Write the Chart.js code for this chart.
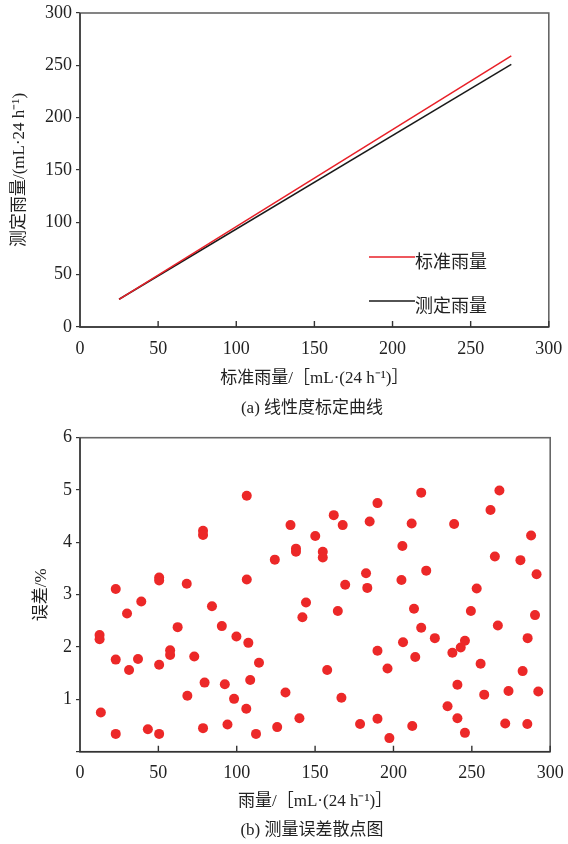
<!DOCTYPE html>
<html>
<head>
<meta charset="utf-8">
<script src="https://cdn.jsdelivr.net/npm/chart.js@4.4.1/dist/chart.umd.min.js"></script>
<style>
  body { margin: 0; background: #fff; width: 568px; height: 844px; overflow: hidden; position: relative;
         font-family: 'Liberation Serif', 'Noto Sans CJK SC', serif; color: #222; }
  canvas { position: absolute; left: 0; }
  #lineChart { top: 0; }
  #errChart { top: 420px; }
  .cap { position: absolute; left: 312px; transform: translateX(-50%); white-space: nowrap;
         font-size: 17px; line-height: 20px; }
</style>
</head>
<body>
<canvas id="lineChart" width="568" height="400"></canvas>
<div class="cap" style="top:398px">(a) 线性度标定曲线</div>
<canvas id="errChart" width="568" height="424"></canvas>
<div class="cap" style="top:820px">(b) 测量误差散点图</div>

<script>
// top chart: calibration lines
const rainX = [25, 276]
const standardRain = [26.5, 259]
const measuredRain = [26.5, 251]
const seriesNames = ['标准雨量', '测定雨量']

// bottom chart: measurement error scatter
const errX = [22.8, 30.0, 39.1, 50.5, 50.5, 68.1, 78.5, 78.5, 84.2, 106.4, 106.4, 124.3, 134.3, 137.8, 137.8, 144.2, 141.9, 150.1,
  161.9, 167.6, 154.9, 154.9, 169.2, 182.5, 183.3, 184.8, 189.8, 164.5, 205.7, 205.1, 211.6, 217.7, 220.9, 213.1, 238.7, 253.1,
  249.4, 261.9, 267.6, 264.7, 281.0, 287.8, 291.3, 290.3,
  12.5, 12.5, 22.8, 31.3, 37.0, 50.5, 57.5, 57.5, 62.3, 72.9, 90.5, 99.8, 107.4, 114.2, 79.5, 92.4, 108.6, 68.5, 98.3, 131.1,
  106.1, 140.0, 13.3, 22.8, 43.3, 50.5, 78.5, 94.1, 112.3, 125.8,
  217.7, 226.4, 206.1, 189.8, 213.9, 237.6, 242.9, 245.6, 266.6, 285.6, 255.6, 282.4, 157.7, 196.2, 240.8, 257.9, 273.4, 292.4,
  166.8, 234.5, 240.8, 178.7, 189.8, 212.0, 197.4, 245.6, 271.3, 285.4]
const errY = [3.11, 2.64, 2.87, 3.33, 3.27, 3.21, 4.22, 4.14, 2.78, 4.89, 3.29, 3.67, 4.33, 3.88, 3.82, 2.85, 2.57, 4.12,
  4.52, 4.33, 3.82, 3.71, 3.19, 3.41, 3.13, 4.40, 4.75, 2.69, 3.93, 3.28, 4.36, 4.95, 3.46, 2.73, 4.35, 3.12,
  2.69, 4.62, 4.99, 3.73, 3.66, 4.13, 3.39, 2.61,
  2.23, 2.15, 1.76, 1.56, 1.77, 1.66, 1.94, 1.85, 2.38, 1.82, 2.40, 2.20, 2.08, 1.70, 1.32, 1.29, 1.37, 1.07, 1.01, 1.13,
  0.82, 0.64, 0.75, 0.34, 0.43, 0.34, 0.45, 0.52, 0.34, 0.47,
  2.37, 2.17, 2.09, 1.93, 1.81, 1.89, 1.99, 2.12, 2.41, 2.17, 1.68, 1.54, 1.56, 1.59, 1.28, 1.09, 1.16, 1.15,
  1.03, 0.87, 0.64, 0.53, 0.63, 0.49, 0.26, 0.36, 0.54, 0.53]

const serif = "'Liberation Serif', 'Noto Sans CJK SC', serif"
Chart.defaults.font.family = serif
Chart.defaults.color = '#222'
Chart.defaults.animation = false

// box around the plot and short inward ticks on the x axis
const frame = {
  id: 'frame',
  afterDraw(chart) {
    const { ctx, chartArea: a, scales: { x } } = chart
    ctx.save()
    ctx.strokeStyle = '#666'
    ctx.lineWidth = 1.6
    ctx.strokeRect(a.left, a.top, a.right - a.left, a.bottom - a.top)
    ctx.strokeStyle = '#333'
    ctx.lineWidth = 1.4
    ctx.beginPath()
    ctx.moveTo(a.left, a.top)
    ctx.lineTo(a.left, a.bottom)
    ctx.lineTo(a.right, a.bottom)
    x.ticks.forEach(t => {
      const px = x.getPixelForValue(t.value)
      ctx.moveTo(px, a.bottom)
      ctx.lineTo(px, a.bottom - 6)
    })
    ctx.stroke()
    ctx.restore()
  }
}

const innerLegend = {
  id: 'innerLegend',
  afterDraw(chart) {
    const { ctx, chartArea: a } = chart
    ctx.save()
    ctx.font = "18px " + serif
    ctx.textBaseline = 'middle'
    chart.data.datasets.forEach((ds, i) => {
      const y = a.top + 244 + i * 44
      ctx.strokeStyle = ds.borderColor
      ctx.lineWidth = 1.3
      ctx.beginPath()
      ctx.moveTo(a.left + 289, y)
      ctx.lineTo(a.left + 335, y)
      ctx.stroke()
      ctx.fillStyle = '#222'
      ctx.fillText(ds.label, a.left + 335, y + 6)
    })
    ctx.restore()
  }
}

const axisX = (padding, height, title) => ({
  type: 'linear', min: 0, max: 300,
  ticks: { stepSize: 50, padding: padding, font: { size: 18, lineHeight: 1 } },
  grid: { display: false },
  border: { display: false },
  title: { display: true, text: title, font: { size: 17 }, padding: 0 },
  afterFit: s => { s.height = height }
})

const axisY = (max, step, titlePad, title, hideZero) => ({
  min: 0, max: max,
  ticks: { stepSize: step, padding: 4, font: { size: 18, lineHeight: 1 },
           callback: v => (hideZero && v === 0) ? '' : v },
  grid: { drawOnChartArea: false, tickLength: 4, color: '#333', lineWidth: 1.2 },
  border: { display: false },
  title: { display: true, text: title, font: { size: 17 }, padding: { top: titlePad, bottom: 0 } },
  afterFit: s => { s.width = 80 }
})

new Chart(document.getElementById('lineChart'), {
  type: 'line',
  data: {
    datasets: [{
      label: seriesNames[0],
      data: rainX.map((x, i) => ({ x: x, y: standardRain[i] })),
      borderColor: 'rgb(232,32,40)',
      borderWidth: 1.5,
      pointRadius: 0
    }, {
      label: seriesNames[1],
      data: rainX.map((x, i) => ({ x: x, y: measuredRain[i] })),
      borderColor: '#1a1a1a',
      borderWidth: 1.5,
      pointRadius: 0
    }]
  },
  options: {
    responsive: false,
    layout: { padding: { left: 0, right: 15, top: 10, bottom: 10.8 } },
    plugins: { legend: { display: false }, tooltip: { enabled: false } },
    scales: {
      x: axisX(5.7, 62.2, '标准雨量/［mL·(24 h⁻¹)］'),
      y: axisY(300, 50, 9, '测定雨量/(mL·24 h⁻¹)', false)
    }
  },
  plugins: [frame, innerLegend]
})

new Chart(document.getElementById('errChart'), {
  type: 'scatter',
  data: {
    datasets: [{
      label: '误差',
      data: errX.map((x, i) => ({ x: x, y: errY[i] })),
      backgroundColor: 'rgb(236,40,40)',
      borderWidth: 0,
      pointRadius: 5
    }]
  },
  options: {
    responsive: false,
    layout: { padding: { left: 0, right: 15, top: 17.7, bottom: 32 } },
    plugins: { legend: { display: false }, tooltip: { enabled: false } },
    scales: {
      x: axisX(4.3, 60.3, '雨量/［mL·(24 h⁻¹)］'),
      y: axisY(6, 1, 31, '误差/%', true)
    }
  },
  plugins: [frame]
})
</script>
</body>
</html>
